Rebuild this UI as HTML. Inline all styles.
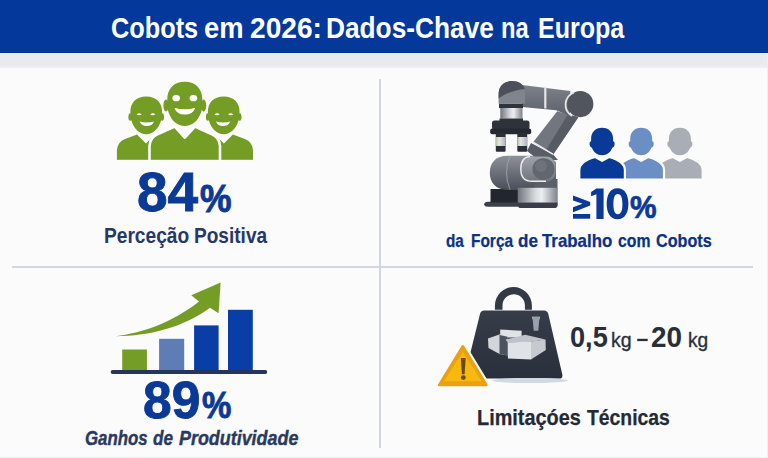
<!DOCTYPE html>
<html><head><meta charset="utf-8">
<style>
html,body{margin:0;padding:0;}
body{width:768px;height:458px;position:relative;overflow:hidden;background:#fbfbfc;font-family:"Liberation Sans",sans-serif;}
.a{position:absolute;white-space:nowrap;line-height:1;transform-origin:0 0;}
#hdr{position:absolute;left:0;top:0;width:768px;height:53px;background:#04399b;}
#band{position:absolute;left:0;top:53px;width:768px;height:15px;background:linear-gradient(#eef0f2 0,#e8eaed 12%,#e9ebee 80%,#eef0f3 100%);}
#hdr2{position:absolute;left:0;top:52px;width:768px;height:1px;background:#03318f;}
#rb{position:absolute;left:767px;top:53px;width:1px;height:405px;background:#eef0f2;}
#bb{position:absolute;left:0;top:457px;width:768px;height:1px;background:#eff1f4;}
#vl{position:absolute;left:379px;top:79px;width:2px;height:369px;background:#d0d7e2;}
#hl{position:absolute;left:12px;top:266px;width:741px;height:2px;background:#d0d7e2;}
svg{position:absolute;left:0;top:0;}
</style></head><body>
<svg width="768" height="458" viewBox="0 0 768 458">
<defs>
  <linearGradient id="gShoulder" x1="0" y1="0" x2="0" y2="1">
    <stop offset="0" stop-color="#8d9199"/><stop offset="0.45" stop-color="#6e737c"/><stop offset="1" stop-color="#494e58"/>
  </linearGradient>
  <linearGradient id="gSilver" x1="0" y1="0" x2="1" y2="0">
    <stop offset="0" stop-color="#6f737b"/><stop offset="0.45" stop-color="#d9dcdf"/><stop offset="0.6" stop-color="#eceef0"/><stop offset="1" stop-color="#7e828a"/>
  </linearGradient>
  <linearGradient id="gArm" x1="0" y1="0" x2="0" y2="1">
    <stop offset="0" stop-color="#7d8189"/><stop offset="1" stop-color="#5c616a"/>
  </linearGradient>
  <linearGradient id="gWeight" x1="0" y1="0" x2="0" y2="1">
    <stop offset="0" stop-color="#363c48"/><stop offset="1" stop-color="#2a303b"/>
  </linearGradient>
</defs>

<!-- People (green) -->
<defs>
  <g id="sideP">
    <path d="M116.9,161 L116.9,150 Q117.5,142 125,139 L137,134.5 L146,143.5 L155,134.5 L168,140 L168,161 Z"/>
    <path d="M146.2,96.4 C156.5,96.4 162,103 162,111 C162,114 162,117 161,120.5 C158.5,129 153,134.2 146.2,134.2 C139.4,134.2 133.9,129 131.4,120.5 C130.4,117 130.4,114 130.4,111 C130.4,103 135.9,96.4 146.2,96.4 Z"/>
    <ellipse cx="130.2" cy="117" rx="1.8" ry="3.8"/>
    <ellipse cx="162.2" cy="117" rx="1.8" ry="3.8"/>
    <path fill="#fff" d="M136.6,114.4 Q139.2,111.9 141.8,114.4 Q139.2,116 136.6,114.4 Z M150.2,114.4 Q152.8,111.9 155.4,114.4 Q152.8,116 150.2,114.4 Z"/>
    <path fill="#fff" d="M139.6,121.4 Q146.6,123.6 154,121.4 Q152,126 146.8,126 Q141.6,126 139.6,121.4 Z"/>
  </g>
</defs>
<g fill="#739d25">
  <use href="#sideP"/>
  <use href="#sideP" transform="translate(369.9,0) scale(-1,1)"/>
  <path stroke="#fff" stroke-width="2.6" stroke-linejoin="round" d="M149.5,161.5 L149.5,146 Q150,137 158,134 L174.7,126.6 L184.8,137.6 L194.9,126.6 L211.4,134 Q219.5,137 220,146 L220,161.5 Z"/>
  <path d="M184.8,81.7 C196,81.7 202.3,89 202.3,99 C202.3,104 202.8,108 200.8,113 C197.8,121 192,126 184.8,126 C177.6,126 171.8,121 168.8,113 C166.8,108 167.3,104 167.3,99 C167.3,89 173.6,81.7 184.8,81.7 Z"/>
  <ellipse cx="166" cy="105.5" rx="2.6" ry="6"/>
  <ellipse cx="203.6" cy="105.5" rx="2.6" ry="6"/>
  <ellipse fill="#fff" cx="176.2" cy="98.2" rx="3.8" ry="3.1"/>
  <ellipse fill="#fff" cx="193.4" cy="98.2" rx="3.8" ry="3.1"/>
  <path fill="#fff" d="M174.3,107.8 Q184.8,110.8 195.3,107.8 Q193,114.6 184.8,114.6 Q176.6,114.6 174.3,107.8 Z"/>
</g>
<rect x="110" y="159.8" width="150" height="4" fill="#fbfbfc"/>

<!-- Robot arm -->
<defs>
  <linearGradient id="gFinger" x1="0" y1="0" x2="1" y2="0">
    <stop offset="0" stop-color="#b9c2a0"/><stop offset="0.35" stop-color="#e4e6e9"/><stop offset="1" stop-color="#aeb2b8"/>
  </linearGradient>
  <linearGradient id="gCap" x1="0" y1="0" x2="0" y2="1">
    <stop offset="0" stop-color="#a0a4ab"/><stop offset="1" stop-color="#6f747d"/>
  </linearGradient>
</defs>
<g>
  <path d="M488,201.8 L518,201.8 L518,206.8 L488,206.8 Q484.2,206.8 484.2,204.3 Q484.2,201.8 488,201.8 Z" fill="#3b404a"/>
  <rect x="490.5" y="189" width="28" height="13.5" fill="#22272f"/>
  <path d="M508,155.7 L546,155.7 L556,162 L556,190 L508,190 C495,190 489.8,182 489.8,172.8 C489.8,163 495,155.7 508,155.7 Z" fill="url(#gShoulder)"/>
  <path d="M510,156 Q503,172.8 510,189.5" stroke="#9ea2aa" stroke-width="0.9" fill="none"/>
  <path d="M531,143 L553.2,154.4 L558,160 L540,161 L527,151 Z" fill="#585d66"/>
  <path d="M557.2,111.2 L578.3,117.2 L553.2,154.4 L533.1,142.3 Z" fill="#72777f"/>
  <path d="M568,114.3 L578.3,117.2 L553.2,154.4 L546,150 Z" fill="#565b64"/>
  <path d="M533.1,142.3 L553.2,154.4" stroke="#e8eaed" stroke-width="1.6"/>
  <rect x="534.5" y="179" width="23" height="10" fill="#5a5f68"/>
  <path d="M530,156.4 L546,156.4 Q555.5,156.4 555.5,169 Q555.5,181.6 546,181.6 L532,181.6 Q520.5,181.6 520.5,169 Q520.5,156.4 530,156.4 Z" fill="url(#gCap)"/>
  <path d="M530,156.6 Q520.8,157 520.8,169 Q520.8,181.3 532,181.3 L546,181.3" stroke="#eceef0" stroke-width="1.4" fill="none"/>
  <ellipse cx="543.5" cy="169" rx="11" ry="10.8" fill="#62676f"/>
  <ellipse cx="541" cy="166" rx="6" ry="6" fill="#6e737b"/>
  <rect x="517.7" y="187.8" width="40" height="15" fill="url(#gSilver)"/>
  <path d="M517.7,202.5 L557.7,202.5 L557.7,205 Q557.7,208.1 554,208.1 L521,208.1 Q517.7,208.1 517.7,205 Z" fill="#383d47"/>
  <path d="M522,85 L570.3,91 L570,116 L556.2,110.2 L522,107.1 Z" fill="url(#gArm)"/>
  <rect x="544.2" y="86.5" width="2.2" height="22" fill="#e3e5e8"/>
  <circle cx="580.3" cy="104.1" r="13.1" fill="#50555e"/>
  <path d="M574,92.5 A13.1,13.1 0 0 0 572,116" stroke="#e3e5e8" stroke-width="1.8" fill="none"/>
  <path d="M498.6,103.8 L498.6,94 C498.6,86 504,81.1 512,81.1 C520,81.1 525.1,86 525.1,94 L525.1,103.8 Z" fill="#80848c"/>
  <path d="M498.6,98.5 L498.6,94 C498.6,86 504,81.1 512,81.1 C519,81.1 523.5,84.5 524.8,89 C515,90 506,93 498.6,98.5 Z" fill="#4b505a"/>
  <rect x="499" y="103.8" width="24" height="4.3" fill="#2e333c"/>
  <rect x="500.3" y="108" width="22.2" height="10.6" fill="url(#gSilver)"/>
  <rect x="499.5" y="118.5" width="23.5" height="2.5" fill="#2e333c"/>
  <rect x="492" y="120.4" width="37.5" height="9" rx="2.5" fill="#2d323b"/>
  <rect x="490.2" y="128.4" width="41" height="5.9" rx="2" fill="#252a32"/>
  <rect x="495.8" y="133" width="9.8" height="18.7" rx="1" fill="#2a2f38"/>
  <rect x="517.3" y="133" width="9.9" height="18.7" rx="1" fill="#2a2f38"/>
  <rect x="495.8" y="137" width="9.8" height="9" fill="url(#gFinger)"/>
  <rect x="517.3" y="137" width="9.9" height="9" fill="url(#gFinger)"/>
</g>

<!-- Blue people -->
<defs>
  <g id="person">
    <path stroke="#fbfbfc" stroke-width="2.2" stroke-linejoin="round" d="M595.2,157 L602.1,160.8 L609,157 C616,159 624.7,162 624.9,170 L624.9,179.5 L579.3,179.5 L579.3,170 C579.5,162 588.2,159 595.2,157 Z"/>
    <path d="M602.1,127.8 C609,127.8 613.1,132.5 613.1,139 L613.1,141.3 C614.6,141.3 614.9,143.5 614.4,145.5 C613.9,147 613.1,147.5 612.4,147.5 C611,152 607,155.2 602.1,155.2 C597.2,155.2 593.2,152 591.8,147.5 C591.1,147.5 590.3,147 589.8,145.5 C589.3,143.5 589.6,141.3 591.1,141.3 L591.1,139 C591.1,132.5 595.2,127.8 602.1,127.8 Z"/>
  </g>
</defs>
<use href="#person" transform="translate(77.8,0)" fill="#a9adb5"/>
<use href="#person" transform="translate(39.1,0)" fill="#6b8fc5"/>
<use href="#person" fill="#0a3a98"/>
<!-- 10 digits -->
<g fill="#0b3a96">
  <polygon points="591.1,192 596.4,188.6 603.6,188.6 603.6,218.9 596.4,218.9 596.4,194.3 591.1,196.3"/>
  <path fill-rule="evenodd" d="M617.5,188.2 C625,188.2 628.4,195 628.4,203.8 C628.4,212.6 625,219.3 617.5,219.3 C610,219.3 606.7,212.6 606.7,203.8 C606.7,195 610,188.2 617.5,188.2 Z M617.8,194 C614.6,194 613.4,198 613.4,204.1 C613.4,210.2 614.6,214.3 617.8,214.3 C621.2,214.3 622.4,210.2 622.4,204.1 C622.4,198 621.2,194 617.8,194 Z"/>
</g>
<!-- ge sign -->
<g fill="#0b3a96">
  <polygon points="573,195.4 590.2,202 590.2,205.6 573,212.2 573,207.2 582.6,203.8 573,200.4"/>
  <rect x="573" y="214" width="17.2" height="4.7"/>
</g>
<!-- dash -->
<rect x="637.2" y="338.8" width="10.5" height="2.3" fill="#282f3b"/>
<!-- bar chart -->
<rect x="122.2" y="349.5" width="24.7" height="21" fill="#739d25"/>
<rect x="159.1" y="338.8" width="25.1" height="31.7" fill="#5f7db5"/>
<rect x="194.1" y="325.4" width="24.5" height="45" fill="#083ea6"/>
<rect x="228" y="309.8" width="24.8" height="60.5" fill="#083ea6"/>
<rect x="110.7" y="370" width="156.5" height="3.9" rx="1.9" fill="#26355e"/>
<path d="M115.5,336.3 C142,333 172,323 199,301.6 L191.3,295.3 L220.6,282.5 L218.6,313.3 L210,307.8 C184,327 150,336 115.5,336.3 Z" fill="#739d25"/>
<!-- weight -->
<path d="M494.9,309.8 L494.9,305.5 A18.5,18.5 0 0 1 531.9,305.5 L531.9,309.8 L524.9,309.8 L524.9,305.5 A11.2,11.2 0 0 0 502.5,305.5 L502.5,309.8 Z" fill="#333a46"/>
<path d="M484,310.5 L544,310.5 Q547.5,310.5 548.3,314 L562.3,374.5 Q563,378.6 559,378.6 L468,378.6 Q464,378.6 465,374.5 L480,314 Q480.8,310.5 484,310.5 Z" fill="url(#gWeight)"/>
<ellipse cx="530" cy="380.5" rx="38" ry="2.6" fill="#d3d9e2"/>
<path d="M532,316.4 L540,316.4 L540,319.3 L539.3,319.3 L538.3,330.7 L533.7,330.7 L532.7,319.3 L532,319.3 Z" fill="#9aa0a8"/>
<g>
  <polygon points="500.2,329.5 521.6,330.8 521.6,337.5 500.2,337.5" fill="#dfe2e6"/>
  <polygon points="488,338.5 500,334.3 507.5,336.8 507.5,355.5 499.5,354 488.5,348" fill="#d2d5da"/>
  <polygon points="499.5,335 507.5,336.8 507.5,355.5 499.5,354" fill="#4d535e"/>
  <polygon points="505.5,339.5 525.2,334.8 545.5,339.6 531,341.8 508,342.8" fill="#bfc3c9"/>
  <polygon points="507.9,342.6 531,341.6 531,359.6 507.9,358.6" fill="#dfe2e6"/>
  <polygon points="531,341.6 545.5,339.6 545.8,350 531,359.6" fill="#c6cad0"/>
</g>
<!-- warning -->
<path d="M462.8,346.3 L486.4,385 L439.2,385 Z" fill="#e9a112" stroke="#fbfbfc" stroke-width="7" stroke-linejoin="round"/>
<path d="M462.8,346.3 L486.4,385 L439.2,385 Z" fill="#e9a112" stroke="#e9a112" stroke-width="2.6" stroke-linejoin="round"/>
<path d="M462.8,352 L481.8,381.3 L443.8,381.3 Z" fill="#f7b90d"/>
<path d="M460.8,357.9 L465.7,357.9 L464.6,374.3 L461.9,374.3 Z" fill="#6b4a10"/>
<circle cx="463.3" cy="377.6" r="2.4" fill="#6b4a10"/>
</svg>
<div id="hdr"></div>
<div id="hdr2"></div>
<div id="band"></div>
<div id="rb"></div>
<div id="bb"></div>
<div id="vl"></div>
<div id="hl"></div>

<div class="a" id="t_ti1" style="left:110.68px;top:14.45px;font-size:29.13px;font-weight:bold;font-style:normal;color:#ffffff;transform:scaleX(0.8686);">Cobots</div>
<div class="a" id="t_ti2" style="left:203.72px;top:14.45px;font-size:29.13px;font-weight:bold;font-style:normal;color:#ffffff;transform:scaleX(0.9391);">em</div>
<div class="a" id="t_ti3" style="left:250.03px;top:14.45px;font-size:29.13px;font-weight:bold;font-style:normal;color:#ffffff;transform:scaleX(0.9648);">2026:</div>
<div class="a" id="t_ti4" style="left:326.31px;top:14.45px;font-size:29.13px;font-weight:bold;font-style:normal;color:#ffffff;transform:scaleX(0.9019);">Dados-Chave</div>
<div class="a" id="t_ti5" style="left:500.69px;top:14.45px;font-size:29.13px;font-weight:bold;font-style:normal;color:#ffffff;transform:scaleX(0.8143);">na</div>
<div class="a" id="t_ti6" style="left:538.39px;top:14.45px;font-size:29.13px;font-weight:bold;font-style:normal;color:#ffffff;transform:scaleX(0.8601);">Europa</div>
<div class="a" id="t_84" style="left:136.62px;top:165.45px;font-size:55.43px;font-weight:bold;font-style:normal;color:#0b3a96;transform:scaleX(0.9935);-webkit-text-stroke:0.9px #0b3a96;">84</div>
<div class="a" id="t_84p" style="left:200.41px;top:179.79px;font-size:38.71px;font-weight:bold;font-style:normal;color:#0b3a96;transform:scaleX(0.9173);-webkit-text-stroke:0.9px #0b3a96;">%</div>
<div class="a" id="t_pe1" style="left:103.67px;top:225.10px;font-size:21.16px;font-weight:bold;font-style:normal;color:#26386a;transform:scaleX(0.9046);">Perceção</div>
<div class="a" id="t_pe2" style="left:194.38px;top:225.10px;font-size:21.16px;font-weight:bold;font-style:normal;color:#26386a;transform:scaleX(0.9009);">Positiva</div>
<div class="a" id="t_10p" style="left:630.45px;top:192.42px;font-size:31.71px;font-weight:bold;font-style:normal;color:#0b3a96;transform:scaleX(0.9427);-webkit-text-stroke:0.7px #0b3a96;">%</div>
<div class="a" id="t_fo1" style="left:445.96px;top:232.17px;font-size:18.77px;font-weight:bold;font-style:normal;color:#0c3282;transform:scaleX(0.8145);-webkit-text-stroke:0.25px #0c3282;">da</div>
<div class="a" id="t_fo2" style="left:470.55px;top:232.17px;font-size:18.77px;font-weight:bold;font-style:normal;color:#0c3282;transform:scaleX(0.8232);-webkit-text-stroke:0.25px #0c3282;">Força</div>
<div class="a" id="t_fo3" style="left:517.50px;top:232.17px;font-size:18.77px;font-weight:bold;font-style:normal;color:#0c3282;transform:scaleX(0.9090);-webkit-text-stroke:0.25px #0c3282;">de</div>
<div class="a" id="t_fo4" style="left:542.28px;top:232.17px;font-size:18.77px;font-weight:bold;font-style:normal;color:#0c3282;transform:scaleX(0.8982);-webkit-text-stroke:0.25px #0c3282;">Trabalho</div>
<div class="a" id="t_fo5" style="left:617.77px;top:232.17px;font-size:18.77px;font-weight:bold;font-style:normal;color:#0c3282;transform:scaleX(0.8419);-webkit-text-stroke:0.25px #0c3282;">com</div>
<div class="a" id="t_fo6" style="left:656.14px;top:232.17px;font-size:18.77px;font-weight:bold;font-style:normal;color:#0c3282;transform:scaleX(0.8611);-webkit-text-stroke:0.25px #0c3282;">Cobots</div>
<div class="a" id="t_89" style="left:143.14px;top:374.11px;font-size:52.14px;font-weight:bold;font-style:normal;color:#0b3a96;transform:scaleX(0.9888);-webkit-text-stroke:0.9px #0b3a96;">89</div>
<div class="a" id="t_89p" style="left:201.54px;top:386.95px;font-size:37.43px;font-weight:bold;font-style:normal;color:#0b3a96;transform:scaleX(0.8821);-webkit-text-stroke:0.9px #0b3a96;">%</div>
<div class="a" id="t_ga1" style="left:84.75px;top:429.30px;font-size:19.42px;font-weight:bold;font-style:italic;color:#2a3a5e;transform:scaleX(0.8679);-webkit-text-stroke:0.4px #2a3a5e;">Ganhos</div>
<div class="a" id="t_ga2" style="left:152.73px;top:429.30px;font-size:19.42px;font-weight:bold;font-style:italic;color:#2a3a5e;transform:scaleX(0.8812);-webkit-text-stroke:0.4px #2a3a5e;">de</div>
<div class="a" id="t_ga3" style="left:178.64px;top:429.30px;font-size:19.42px;font-weight:bold;font-style:italic;color:#2a3a5e;transform:scaleX(0.9226);-webkit-text-stroke:0.4px #2a3a5e;">Produtividade</div>
<div class="a" id="t_05" style="left:569.81px;top:323.15px;font-size:28.71px;font-weight:bold;font-style:normal;color:#282f3b;transform:scaleX(0.9469);">0,5</div>
<div class="a" id="t_kg1" style="left:611.19px;top:329.84px;font-size:20.34px;font-weight:normal;font-style:normal;color:#282f3b;transform:scaleX(0.9604);-webkit-text-stroke:0.35px #282f3b;">kg</div>
<div class="a" id="t_20" style="left:651.24px;top:323.20px;font-size:28.57px;font-weight:bold;font-style:normal;color:#282f3b;transform:scaleX(0.9745);">20</div>
<div class="a" id="t_kg2" style="left:687.51px;top:331.10px;font-size:19.93px;font-weight:normal;font-style:normal;color:#282f3b;transform:scaleX(0.9621);-webkit-text-stroke:0.35px #282f3b;">kg</div>
<div class="a" id="t_li1" style="left:477.28px;top:406.87px;font-size:21.96px;font-weight:bold;font-style:normal;color:#232a38;transform:scaleX(0.9054);-webkit-text-stroke:0.25px #232a38;">Limitaçóes</div>
<div class="a" id="t_li2" style="left:587.38px;top:406.87px;font-size:21.96px;font-weight:bold;font-style:normal;color:#232a38;transform:scaleX(0.8813);-webkit-text-stroke:0.25px #232a38;">Técnicas</div>
</body></html>
